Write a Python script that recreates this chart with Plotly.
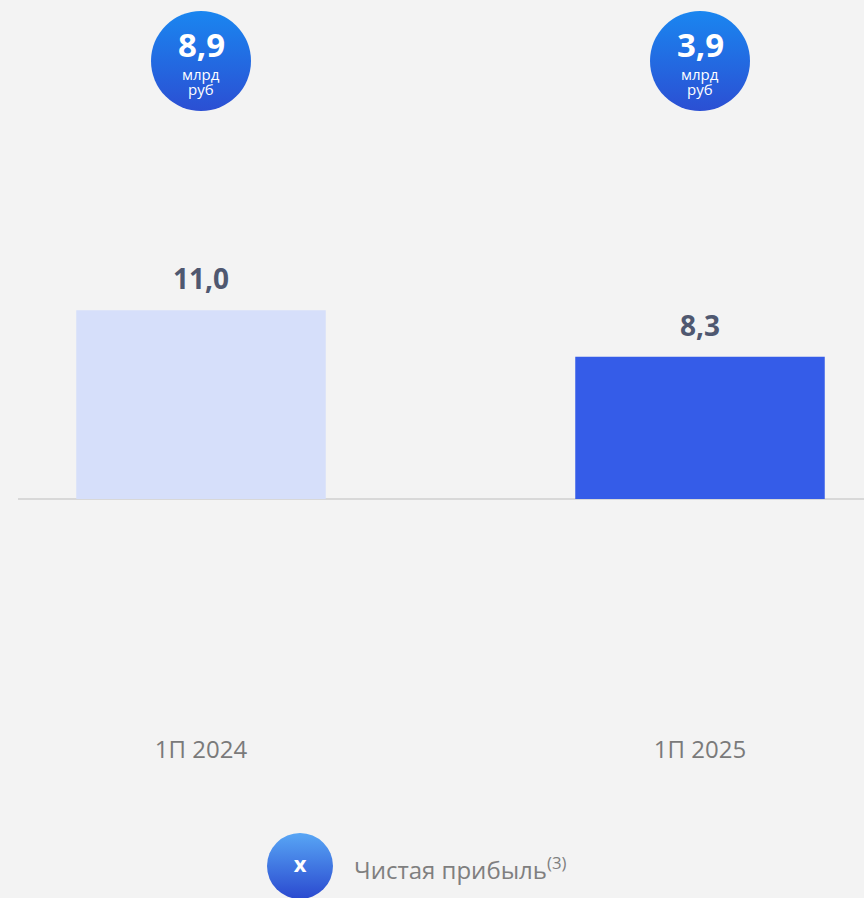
import plotly.graph_objects as go

# data
periods = ["1П 2024", "1П 2025"]
profit = [11.0, 8.3]
bubble_values = [8.9, 3.9]
bubble_unit = ["млрд", "руб"]
legend_label = "Чистая прибыль"
legend_note = "(3)"

bar_colors = ["#d6dffa", "#355ce8"]
bg = "#f3f3f3"
font = "Open Sans"


def fmt(v):
    return f"{v:.1f}".replace(".", ",")


W, H = 864, 898
# plot area in pixels
px_left, px_top, px_bottom = 18, 0, 733
zero_px = 499
unit_px = 17.15
y_top = (zero_px - px_top) / unit_px
y_bot = -(px_bottom - zero_px) / unit_px

fig = go.Figure()

fig.add_trace(go.Bar(
    x=[0, 1],
    y=profit,
    width=0.5,
    marker_color=bar_colors,
    marker_line_width=0,
    hoverinfo="skip",
    showlegend=False,
))

# bubbles above the bars
bubble_y = (zero_px - 61) / unit_px
fig.add_trace(go.Scatter(
    x=[0, 1],
    y=[bubble_y, bubble_y],
    mode="markers",
    marker=dict(size=100, color="#1a86f0", line_width=0,
                gradient=dict(type="vertical", color="#2b4fd3")),
    cliponaxis=False,
    hoverinfo="skip",
    showlegend=False,
))

annotations = []
for i, v in enumerate(profit):
    annotations.append(dict(
        x=i, y=v, xref="x", yref="y", text=f"<b>{fmt(v)}</b>",
        showarrow=False, yanchor="bottom", yshift=11,
        font=dict(family=font, size=28, color="#4f5870"),
    ))
for i, v in enumerate(bubble_values):
    annotations.append(dict(
        x=i, y=bubble_y, xref="x", yref="y", text=f"<b>{fmt(v)}</b>",
        showarrow=False, yshift=17,
        font=dict(family=font, size=33, color="white"),
    ))
    for k, w in enumerate(bubble_unit):
        annotations.append(dict(
            x=i, y=bubble_y, xref="x", yref="y", text=w,
            showarrow=False, yshift=-13 - 15 * k,
            font=dict(family=font, size=15, color="white"),
        ))

# legend (own little subplot in pixel units)
fig.add_trace(go.Scatter(
    x=[300], y=[H - 866],
    xaxis="x2", yaxis="y2",
    mode="markers+text",
    text=["<b>x</b>"],
    textposition="middle center",
    textfont=dict(family=font, size=22, color="white"),
    marker=dict(size=66, color="#58a6f5", line_width=0,
                gradient=dict(type="vertical", color="#2a49cf")),
    cliponaxis=False,
    hoverinfo="skip",
    showlegend=False,
))
annotations.append(dict(
    x=352, y=H - 869, xref="x2", yref="y2",
    text=f"{legend_label}<sup>{legend_note}</sup>",
    showarrow=False, xanchor="left",
    font=dict(family=font, size=24, color="#7f7f7f"),
))

fig.update_layout(
    width=W, height=H,
    margin=dict(l=0, r=0, t=0, b=0, pad=0),
    paper_bgcolor=bg,
    plot_bgcolor=bg,
    showlegend=False,
    annotations=annotations,
    xaxis=dict(
        domain=[px_left / W, 1],
        range=[(px_left - 201) / 499, (W - 201) / 499],
        tickmode="array",
        tickvals=[0, 1],
        ticktext=periods,
        tickfont=dict(family=font, size=24, color="#7a7a7a"),
        ticks="",
        showgrid=False,
        zeroline=False,
        showline=False,
        fixedrange=True,
    ),
    yaxis=dict(
        domain=[(H - px_bottom) / H, 1 - px_top / H],
        range=[y_bot, y_top],
        showgrid=False,
        showticklabels=False,
        zeroline=True,
        zerolinecolor="#d8d8d8",
        zerolinewidth=1.5,
        fixedrange=True,
    ),
    xaxis2=dict(domain=[0, 1], range=[0, W], visible=False, fixedrange=True),
    yaxis2=dict(domain=[0, (H - px_bottom) / H], range=[0, H - px_bottom],
                anchor="x2", visible=False, fixedrange=True),
)

fig.write_html("out.html", config={"displayModeBar": False},
               post_script="document.body.style.margin = '0';")
